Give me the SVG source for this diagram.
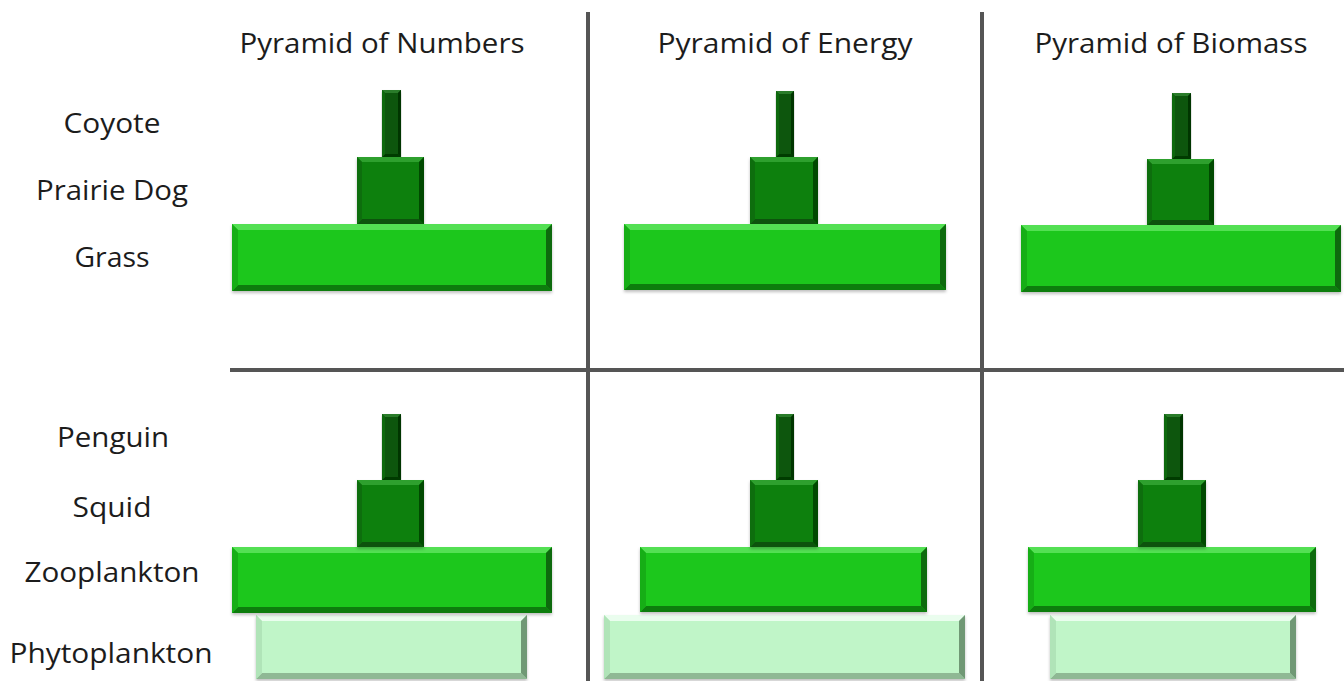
<svg xmlns="http://www.w3.org/2000/svg" width="1344" height="681" viewBox="0 0 1344 681">
<style>
.txt{font-family:"Open Sans","Liberation Sans",sans-serif;font-size:27px;fill:#1c1c1c;text-anchor:middle}
.grid line{stroke:#555;stroke-width:4}
.br .m{fill:#1fc71f}.br .t{fill:#52e052}.br .b{fill:#0f7d0f}.br .l{fill:#19ae19}.br .r{fill:#0b6a0b}
.md .m{fill:#0a800a}.md .t{fill:#2fa02f}.md .b{fill:#075207}.md .l{fill:#086e08}.md .r{fill:#054a05}
.dk .m{fill:#0a560a}.dk .t{fill:#2c7c2c}.dk .b{fill:#043a04}.dk .l{fill:#0e690e}.dk .r{fill:#033403}
.lt .m{fill:#c0f5c8}.lt .t{fill:#eafdee}.lt .b{fill:#8fb894}.lt .l{fill:#b0e4b8}.lt .r{fill:#6f9874}
.box{filter:url(#sh)}
</style>
<defs>
<filter id="sh" x="-5%" y="-5%" width="110%" height="120%">
<feDropShadow dx="0" dy="2" stdDeviation="1.5" flood-color="#000" flood-opacity="0.25"/>
</filter>
</defs>

<g id="grid" class="grid">
<line x1="588" y1="12" x2="588" y2="681"/>
<line x1="982" y1="12" x2="982" y2="681"/>
<line x1="230" y1="370" x2="1344" y2="370"/>
</g>

<g id="titles" class="txt">
<text x="382" y="53" textLength="285" lengthAdjust="spacingAndGlyphs">Pyramid of Numbers</text>
<text x="785" y="53" textLength="255" lengthAdjust="spacingAndGlyphs">Pyramid of Energy</text>
<text x="1171" y="53" textLength="273" lengthAdjust="spacingAndGlyphs">Pyramid of Biomass</text>
</g>

<g id="row-labels" class="txt">
<text x="112" y="133" textLength="97" lengthAdjust="spacingAndGlyphs">Coyote</text>
<text x="112" y="200" textLength="152" lengthAdjust="spacingAndGlyphs">Prairie Dog</text>
<text x="112" y="267" textLength="75" lengthAdjust="spacingAndGlyphs">Grass</text>
<text x="113" y="447" textLength="112" lengthAdjust="spacingAndGlyphs">Penguin</text>
<text x="112" y="517" textLength="79" lengthAdjust="spacingAndGlyphs">Squid</text>
<text x="112" y="582" textLength="175" lengthAdjust="spacingAndGlyphs">Zooplankton</text>
<text x="111" y="663" textLength="203" lengthAdjust="spacingAndGlyphs">Phytoplankton</text>
</g>

<!-- Pyramid of Numbers, land -->
<g id="num-land">
<g id="num-coyote" class="box dk"><rect class="m" x="382" y="90" width="19" height="67"/><path class="t" d="M382 90h19l-3 3h-13z"/><path class="b" d="M382 157h19l-3 -3h-13z"/><path class="l" d="M382 90l3 3v61l-3 3z"/><path class="r" d="M401 90l-3 3v61l3 3z"/></g>
<g id="num-prairiedog" class="box md"><rect class="m" x="357" y="157" width="67" height="67"/><path class="t" d="M357 157h67l-5 5h-57z"/><path class="b" d="M357 224h67l-5 -5h-57z"/><path class="l" d="M357 157l5 5v57l-5 5z"/><path class="r" d="M424 157l-5 5v57l5 5z"/></g>
<g id="num-grass" class="box br"><rect class="m" x="232" y="224" width="320" height="67"/><path class="t" d="M232 224h320l-6 6h-308z"/><path class="b" d="M232 291h320l-6 -6h-308z"/><path class="l" d="M232 224l6 6v55l-6 6z"/><path class="r" d="M552 224l-6 6v55l6 6z"/></g>
</g>

<!-- Pyramid of Energy, land -->
<g id="en-land">
<g id="en-coyote" class="box dk"><rect class="m" x="776" y="91" width="18" height="66"/><path class="t" d="M776 91h18l-3 3h-12z"/><path class="b" d="M776 157h18l-3 -3h-12z"/><path class="l" d="M776 91l3 3v60l-3 3z"/><path class="r" d="M794 91l-3 3v60l3 3z"/></g>
<g id="en-prairiedog" class="box md"><rect class="m" x="750" y="157" width="68" height="67"/><path class="t" d="M750 157h68l-5 5h-58z"/><path class="b" d="M750 224h68l-5 -5h-58z"/><path class="l" d="M750 157l5 5v57l-5 5z"/><path class="r" d="M818 157l-5 5v57l5 5z"/></g>
<g id="en-grass" class="box br"><rect class="m" x="624" y="224" width="322" height="66"/><path class="t" d="M624 224h322l-6 6h-310z"/><path class="b" d="M624 290h322l-6 -6h-310z"/><path class="l" d="M624 224l6 6v54l-6 6z"/><path class="r" d="M946 224l-6 6v54l6 6z"/></g>
</g>

<!-- Pyramid of Biomass, land -->
<g id="bio-land">
<g id="bio-coyote" class="box dk"><rect class="m" x="1172" y="93" width="19" height="66"/><path class="t" d="M1172 93h19l-3 3h-13z"/><path class="b" d="M1172 159h19l-3 -3h-13z"/><path class="l" d="M1172 93l3 3v60l-3 3z"/><path class="r" d="M1191 93l-3 3v60l3 3z"/></g>
<g id="bio-prairiedog" class="box md"><rect class="m" x="1147" y="159" width="67" height="66"/><path class="t" d="M1147 159h67l-5 5h-57z"/><path class="b" d="M1147 225h67l-5 -5h-57z"/><path class="l" d="M1147 159l5 5v56l-5 5z"/><path class="r" d="M1214 159l-5 5v56l5 5z"/></g>
<g id="bio-grass" class="box br"><rect class="m" x="1021" y="225" width="320" height="67"/><path class="t" d="M1021 225h320l-6 6h-308z"/><path class="b" d="M1021 292h320l-6 -6h-308z"/><path class="l" d="M1021 225l6 6v55l-6 6z"/><path class="r" d="M1341 225l-6 6v55l6 6z"/></g>
</g>

<!-- Pyramid of Numbers, ocean -->
<g id="num-ocean">
<g id="num-phyto" class="box lt"><rect class="m" x="256" y="615" width="271" height="64"/><path class="t" d="M256 615h271l-6 6h-259z"/><path class="b" d="M256 679h271l-6 -6h-259z"/><path class="l" d="M256 615l6 6v52l-6 6z"/><path class="r" d="M527 615l-6 6v52l6 6z"/></g>
<g id="num-zoo" class="box br"><rect class="m" x="232" y="547" width="320" height="66"/><path class="t" d="M232 547h320l-6 6h-308z"/><path class="b" d="M232 613h320l-6 -6h-308z"/><path class="l" d="M232 547l6 6v54l-6 6z"/><path class="r" d="M552 547l-6 6v54l6 6z"/></g>
<g id="num-penguin" class="box dk"><rect class="m" x="382" y="414" width="19" height="66"/><path class="t" d="M382 414h19l-3 3h-13z"/><path class="b" d="M382 480h19l-3 -3h-13z"/><path class="l" d="M382 414l3 3v60l-3 3z"/><path class="r" d="M401 414l-3 3v60l3 3z"/></g>
<g id="num-squid" class="box md"><rect class="m" x="357" y="480" width="67" height="67"/><path class="t" d="M357 480h67l-5 5h-57z"/><path class="b" d="M357 547h67l-5 -5h-57z"/><path class="l" d="M357 480l5 5v57l-5 5z"/><path class="r" d="M424 480l-5 5v57l5 5z"/></g>
</g>

<!-- Pyramid of Energy, ocean -->
<g id="en-ocean">
<g id="en-phyto" class="box lt"><rect class="m" x="604" y="615" width="361" height="64"/><path class="t" d="M604 615h361l-6 6h-349z"/><path class="b" d="M604 679h361l-6 -6h-349z"/><path class="l" d="M604 615l6 6v52l-6 6z"/><path class="r" d="M965 615l-6 6v52l6 6z"/></g>
<g id="en-zoo" class="box br"><rect class="m" x="640" y="547" width="287" height="65"/><path class="t" d="M640 547h287l-6 6h-275z"/><path class="b" d="M640 612h287l-6 -6h-275z"/><path class="l" d="M640 547l6 6v53l-6 6z"/><path class="r" d="M927 547l-6 6v53l6 6z"/></g>
<g id="en-penguin" class="box dk"><rect class="m" x="776" y="414" width="18" height="66"/><path class="t" d="M776 414h18l-3 3h-12z"/><path class="b" d="M776 480h18l-3 -3h-12z"/><path class="l" d="M776 414l3 3v60l-3 3z"/><path class="r" d="M794 414l-3 3v60l3 3z"/></g>
<g id="en-squid" class="box md"><rect class="m" x="750" y="480" width="68" height="67"/><path class="t" d="M750 480h68l-5 5h-58z"/><path class="b" d="M750 547h68l-5 -5h-58z"/><path class="l" d="M750 480l5 5v57l-5 5z"/><path class="r" d="M818 480l-5 5v57l5 5z"/></g>
</g>

<!-- Pyramid of Biomass, ocean -->
<g id="bio-ocean">
<g id="bio-phyto" class="box lt"><rect class="m" x="1050" y="615" width="246" height="64"/><path class="t" d="M1050 615h246l-6 6h-234z"/><path class="b" d="M1050 679h246l-6 -6h-234z"/><path class="l" d="M1050 615l6 6v52l-6 6z"/><path class="r" d="M1296 615l-6 6v52l6 6z"/></g>
<g id="bio-zoo" class="box br"><rect class="m" x="1028" y="547" width="288" height="65"/><path class="t" d="M1028 547h288l-6 6h-276z"/><path class="b" d="M1028 612h288l-6 -6h-276z"/><path class="l" d="M1028 547l6 6v53l-6 6z"/><path class="r" d="M1316 547l-6 6v53l6 6z"/></g>
<g id="bio-penguin" class="box dk"><rect class="m" x="1164" y="414" width="19" height="66"/><path class="t" d="M1164 414h19l-3 3h-13z"/><path class="b" d="M1164 480h19l-3 -3h-13z"/><path class="l" d="M1164 414l3 3v60l-3 3z"/><path class="r" d="M1183 414l-3 3v60l3 3z"/></g>
<g id="bio-squid" class="box md"><rect class="m" x="1138" y="480" width="68" height="67"/><path class="t" d="M1138 480h68l-5 5h-58z"/><path class="b" d="M1138 547h68l-5 -5h-58z"/><path class="l" d="M1138 480l5 5v57l-5 5z"/><path class="r" d="M1206 480l-5 5v57l5 5z"/></g>
</g>
</svg>
